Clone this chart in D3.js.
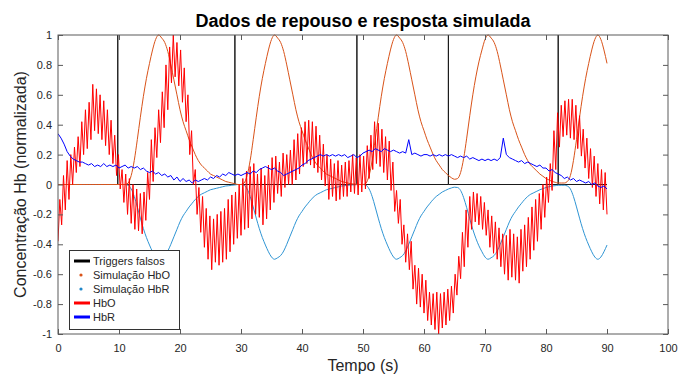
<!DOCTYPE html>
<html>
<head>
<meta charset="utf-8">
<script src="https://cdn.jsdelivr.net/npm/d3@7"></script>
<style>
  body { margin: 0; background: #fff; }
  svg { display: block; font-family: "Liberation Sans", Arial, Helvetica, sans-serif; }
</style>
</head>
<body>
<div id="chart"></div>
<script>
// tempos dos triggers (s)
const triggerTimes = [9.8, 29, 49, 64, 82];

// simulações amostradas a cada 0.5 s, de 0 a 90 s
const simStep = 0.5;
const hboSim = [
  0,0,0,0,0,0,0,0,0,0,0,0,0,0,0,0,0,0,0,0,
  0,0,0,0.01,0.06,0.16,0.3,0.45,0.59,0.71,0.81,0.9,0.97,1,0.98,0.95,0.89,0.8,0.7,0.6,0.5,0.42,0.36,0.3,0.25,0.2,0.16,0.13,0.11,0.09,0.07,0.06,0.05,0.04,0.03,0.02,0.015,0.01,0.005,
  0,0,0.01,0.06,0.16,0.3,0.45,0.59,0.71,0.81,0.9,0.97,1,0.98,0.95,0.89,0.8,0.7,0.6,0.5,0.42,0.36,0.3,0.25,0.2,0.16,0.13,0.11,0.09,0.07,0.06,0.05,0.04,0.03,0.02,0.015,0.01,0.005,0.003,0.002,
  0,0,0.01,0.06,0.16,0.3,0.45,0.59,0.71,0.81,0.9,0.97,1,0.98,0.95,0.89,0.8,0.7,0.6,0.5,0.42,0.36,0.3,0.25,0.2,0.16,0.13,0.1,0.08,0.06,
  0.045,0.035,0.04,0.08,0.175,0.31,0.46,0.6,0.72,0.82,0.9,0.97,1,0.98,0.95,0.89,0.8,0.7,0.6,0.5,0.42,0.36,0.3,0.25,0.2,0.16,0.13,0.11,0.09,0.07,0.055,0.04,0.03,0.02,0.015,0.01,
  0.01,0.01,0.02,0.06,0.16,0.3,0.45,0.59,0.71,0.81,0.9,0.97,1,0.97,0.9,0.81
];
const hbrSim = [
  0,0,0,0,0,0,0,0,0,0,0,0,0,0,0,0,0,0,0,0,
  0,0,0,-0.005,-0.03,-0.08,-0.15,-0.225,-0.295,-0.355,-0.405,-0.45,-0.485,-0.5,-0.49,-0.475,-0.445,-0.4,-0.35,-0.3,-0.25,-0.21,-0.18,-0.15,-0.125,-0.1,-0.08,-0.065,-0.055,-0.045,-0.035,-0.03,-0.025,-0.02,-0.015,-0.01,-0.008,-0.005,-0.003,
  0,0,-0.005,-0.03,-0.08,-0.15,-0.225,-0.295,-0.355,-0.405,-0.45,-0.485,-0.5,-0.49,-0.475,-0.445,-0.4,-0.35,-0.3,-0.25,-0.21,-0.18,-0.15,-0.125,-0.1,-0.08,-0.065,-0.055,-0.045,-0.035,-0.03,-0.025,-0.02,-0.015,-0.01,-0.008,-0.005,-0.003,-0.002,-0.001,
  0,0,-0.005,-0.03,-0.08,-0.15,-0.225,-0.295,-0.355,-0.405,-0.45,-0.485,-0.5,-0.49,-0.475,-0.445,-0.4,-0.35,-0.3,-0.25,-0.21,-0.18,-0.15,-0.125,-0.1,-0.08,-0.065,-0.05,-0.04,-0.03,
  -0.023,-0.018,-0.02,-0.04,-0.088,-0.155,-0.23,-0.3,-0.36,-0.41,-0.45,-0.485,-0.5,-0.49,-0.475,-0.445,-0.4,-0.35,-0.3,-0.25,-0.21,-0.18,-0.15,-0.125,-0.1,-0.08,-0.065,-0.055,-0.045,-0.035,-0.028,-0.02,-0.015,-0.01,-0.008,-0.005,
  -0.005,-0.005,-0.01,-0.03,-0.08,-0.15,-0.225,-0.295,-0.355,-0.405,-0.45,-0.485,-0.5,-0.485,-0.45,-0.405
];

// HbR medido, a cada 0.5 s
const hbrStep = 0.5;
const hbrData = [
  0.34,0.31,0.27,0.22,0.19,0.17,0.16,0.15,0.15,0.14,0.13,0.14,0.12,0.13,0.12,0.14,0.12,0.13,0.12,0.13,
  0.11,0.12,0.13,0.11,0.12,0.11,0.12,0.1,0.11,0.09,0.08,0.09,0.07,0.08,0.06,0.07,0.05,0.06,0.03,0.05,
  0.02,0.04,0.02,0.03,0.01,0.03,0.02,0.03,0.04,0.03,0.05,0.04,0.06,0.05,0.07,0.06,0.08,0.07,0.06,0.07,
  0.06,0.07,0.08,0.07,0.09,0.08,0.1,0.11,0.12,0.11,0.1,0.11,0.09,0.08,0.06,0.07,0.08,0.09,0.1,0.11,
  0.13,0.14,0.16,0.17,0.18,0.19,0.2,0.19,0.2,0.19,0.2,0.19,0.2,0.19,0.2,0.18,0.19,0.2,0.18,0.19,
  0.21,0.22,0.23,0.22,0.24,0.23,0.22,0.24,0.23,0.22,0.23,0.22,0.21,0.22,0.21,0.3,0.2,0.21,0.2,0.19,
  0.2,0.2,0.19,0.2,0.19,0.2,0.19,0.2,0.19,0.2,0.19,0.18,0.19,0.18,0.19,0.17,0.18,0.17,0.16,0.17,
  0.16,0.17,0.16,0.17,0.16,0.18,0.31,0.2,0.18,0.17,0.16,0.15,0.16,0.14,0.15,0.14,0.13,0.12,0.13,0.11,
  0.11,0.09,0.1,0.08,0.07,0.06,0.04,0.05,0.03,0.04,0.02,0.03,0.02,0.01,0.02,0,0.01,-0.01,-0.02,-0.01,-0.03
];

// HbO medido, a cada 0.3 s (vales e picos alternados)
const hboStep = 0.3;
const hboData = [
  -0.38,-0.1,-0.27,0.06,-0.17,0.16,-0.1,0.2,0,0.25,0.08,0.32,0.12,0.42,0.2,0.5,0.24,0.55,0.3,0.67,
  0.36,0.64,0.34,0.6,0.3,0.56,0.26,0.5,0.2,0.43,0.14,0.33,0.06,0.2,-0.03,0.1,-0.12,0.07,-0.2,0.04,
  -0.26,0,-0.3,-0.03,-0.31,-0.06,-0.33,-0.05,-0.24,0.08,-0.1,0.3,0.02,0.38,0.18,0.5,0.28,0.62,0.38,0.8,
  0.5,0.92,0.68,1,0.72,0.95,0.66,0.9,0.55,0.78,0.42,0.6,0.2,0.36,0,0.1,-0.2,-0.02,-0.32,-0.08,
  -0.42,-0.16,-0.5,-0.21,-0.57,-0.23,-0.52,-0.2,-0.54,-0.18,-0.52,-0.16,-0.5,-0.1,-0.45,-0.07,-0.4,-0.05,-0.36,0,
  -0.34,0.04,-0.3,0.09,-0.29,0.12,-0.23,0.14,-0.2,0.07,-0.22,0.11,-0.27,0.06,-0.23,0.13,-0.17,0.18,-0.12,0.19,
  -0.06,0.15,-0.08,0.21,-0.02,0.2,0,0.23,0,0.3,0.03,0.34,0.07,0.38,0.12,0.42,0.14,0.43,0.13,0.42,
  0.11,0.39,0.08,0.33,0.03,0.27,-0.01,0.2,-0.1,0.17,-0.08,0.14,-0.11,0.16,-0.1,0.13,-0.08,0.15,-0.08,0.16,
  -0.05,0.2,-0.06,0.18,-0.07,0.2,-0.05,0.19,-0.03,0.26,0.04,0.33,0.1,0.42,0.14,0.41,0.12,0.37,0.08,0.32,
  0.03,0.29,-0.04,0.15,-0.18,-0.04,-0.26,-0.1,-0.4,-0.27,-0.52,-0.33,-0.57,-0.38,-0.7,-0.54,-0.8,-0.56,-0.82,-0.6,
  -0.86,-0.64,-0.91,-0.72,-0.94,-0.73,-0.97,-0.72,-1,-0.73,-0.96,-0.72,-0.94,-0.7,-0.91,-0.68,-0.86,-0.6,-0.74,-0.48,
  -0.63,-0.32,-0.55,-0.17,-0.42,-0.08,-0.3,-0.05,-0.25,-0.06,-0.27,-0.08,-0.3,-0.12,-0.34,-0.17,-0.42,-0.21,-0.46,-0.25,
  -0.5,-0.29,-0.55,-0.33,-0.6,-0.34,-0.64,-0.3,-0.62,-0.33,-0.64,-0.35,-0.66,-0.3,-0.58,-0.27,-0.55,-0.22,-0.5,-0.15,
  -0.44,-0.1,-0.38,-0.06,-0.3,0,-0.22,0.05,-0.12,0.14,-0.04,0.36,0.1,0.48,0.25,0.53,0.32,0.56,0.33,0.57,
  0.31,0.57,0.3,0.53,0.24,0.46,0.19,0.37,0.11,0.31,0.04,0.24,-0.02,0.19,-0.08,0.14,-0.13,0.1,-0.17,0.08,
  -0.2
];

const xTicks = [0, 10, 20, 30, 40, 50, 60, 70, 80, 90, 100];
const yTicks = [-1, -0.8, -0.6, -0.4, -0.2, 0, 0.2, 0.4, 0.6, 0.8, 1];

const legendItems = [
  { label: 'Triggers falsos', color: '#000000', kind: 'line' },
  { label: 'Simulação HbO', color: '#D95319', kind: 'dot' },
  { label: 'Simulação HbR', color: '#1f87c9', kind: 'dot' },
  { label: 'HbO', color: '#ff0000', kind: 'line' },
  { label: 'HbR', color: '#0000ff', kind: 'line' }
];

const width = 678;
const height = 375;
const margin = { top: 35, right: 10, bottom: 41, left: 58 };
const axisColor = '#5a5a5a';
const textColor = '#262626';

const x = d3.scaleLinear().domain([0, 100]).range([margin.left, width - margin.right]);
const y = d3.scaleLinear().domain([-1, 1]).range([height - margin.bottom, margin.top]);

const svg = d3.select('#chart').append('svg')
  .attr('width', width)
  .attr('height', height);

svg.append('rect').attr('width', width).attr('height', height).attr('fill', '#fff');

svg.append('defs').append('clipPath').attr('id', 'plot-clip')
  .append('rect')
  .attr('x', x(0)).attr('y', y(1) - 1)
  .attr('width', x(100) - x(0)).attr('height', y(-1) - y(1) + 2);

// series -> pontos {t, v}
const toPoints = (vals, step) => vals.map((v, i) => ({ t: i * step, v: v }));

// triggers: linha de base em zero com pulsos até 1
const triggerPts = [{ t: 0, v: 0 }];
triggerTimes.forEach(t => {
  triggerPts.push({ t: t, v: 0 }, { t: t, v: 1 }, { t: t, v: 0 });
});
triggerPts.push({ t: 90, v: 0 });

const line = d3.line().x(d => x(d.t)).y(d => y(d.v));
const smooth = d3.line().x(d => x(d.t)).y(d => y(d.v)).curve(d3.curveMonotoneX);

const plot = svg.append('g').attr('clip-path', 'url(#plot-clip)');

plot.append('path').datum(triggerPts)
  .attr('fill', 'none').attr('stroke', '#1a1a1a').attr('stroke-width', 1).attr('d', line);

plot.append('path').datum(toPoints(hbrSim, simStep))
  .attr('fill', 'none').attr('stroke', '#2f95d4').attr('stroke-width', 1).attr('d', smooth);

plot.append('path').datum(toPoints(hboSim, simStep))
  .attr('fill', 'none').attr('stroke', '#D95319').attr('stroke-width', 1).attr('d', smooth);

plot.append('path').datum(toPoints(hboData, hboStep))
  .attr('fill', 'none').attr('stroke', '#ff0000').attr('stroke-width', 1).attr('d', line);

plot.append('path').datum(toPoints(hbrData, hbrStep))
  .attr('fill', 'none').attr('stroke', '#0000ff').attr('stroke-width', 1).attr('d', line);

// eixos (ticks para dentro, estilo MATLAB)
const fmt = d => String(+d.toFixed(1));

const styleAxis = g => {
  g.select('.domain').remove();
  g.selectAll('line').attr('stroke', axisColor);
  g.selectAll('text').attr('fill', textColor).style('font-size', '11px');
};

svg.append('g')
  .attr('transform', `translate(0,${y(-1)})`)
  .call(d3.axisBottom(x).tickValues(xTicks).tickFormat(fmt).tickSize(-5).tickPadding(10))
  .call(styleAxis);

svg.append('g')
  .attr('transform', `translate(0,${y(1)})`)
  .call(d3.axisTop(x).tickValues(xTicks).tickFormat('').tickSize(-5))
  .call(styleAxis);

svg.append('g')
  .attr('transform', `translate(${x(0)},0)`)
  .call(d3.axisLeft(y).tickValues(yTicks).tickFormat(fmt).tickSize(-5).tickPadding(6))
  .call(styleAxis);

svg.append('g')
  .attr('transform', `translate(${x(100)},0)`)
  .call(d3.axisRight(y).tickValues(yTicks).tickFormat('').tickSize(-5))
  .call(styleAxis);

// caixa do gráfico
svg.append('rect')
  .attr('x', x(0)).attr('y', y(1))
  .attr('width', x(100) - x(0)).attr('height', y(-1) - y(1))
  .attr('fill', 'none').attr('stroke', axisColor).attr('stroke-width', 1);

// título
svg.append('text')
  .attr('x', (x(0) + x(100)) / 2)
  .attr('y', 27)
  .attr('text-anchor', 'middle')
  .style('font-size', '18px')
  .style('font-weight', 'bold')
  .attr('fill', '#000')
  .text('Dados de repouso e resposta simulada');

// rótulo x
svg.append('text')
  .attr('x', (x(0) + x(100)) / 2)
  .attr('y', 371)
  .attr('text-anchor', 'middle')
  .style('font-size', '16px')
  .attr('fill', textColor)
  .text('Tempo (s)');

// rótulo y
svg.append('text')
  .attr('transform', `translate(26,${(y(1) + y(-1)) / 2}) rotate(-90)`)
  .attr('text-anchor', 'middle')
  .style('font-size', '16px')
  .attr('fill', textColor)
  .text('Concentração Hb (normalizada)');

// legenda
const legend = svg.append('g').attr('transform', 'translate(69,250)');

legend.append('rect')
  .attr('x', 0.5).attr('y', 0.5)
  .attr('width', 110).attr('height', 79)
  .attr('fill', '#fff').attr('stroke', '#333').attr('stroke-width', 1);

legendItems.forEach((item, i) => {
  const cy = 11 + i * 14;
  if (item.kind === 'line') {
    legend.append('line')
      .attr('x1', 5).attr('x2', 21).attr('y1', cy).attr('y2', cy)
      .attr('stroke', item.color).attr('stroke-width', 3);
  } else {
    legend.append('circle')
      .attr('cx', 12).attr('cy', cy).attr('r', 1.6)
      .attr('fill', item.color);
  }
  legend.append('text')
    .attr('x', 24).attr('y', cy + 4)
    .style('font-size', '11px')
    .attr('fill', textColor)
    .text(item.label);
});
</script>
</body>
</html>
